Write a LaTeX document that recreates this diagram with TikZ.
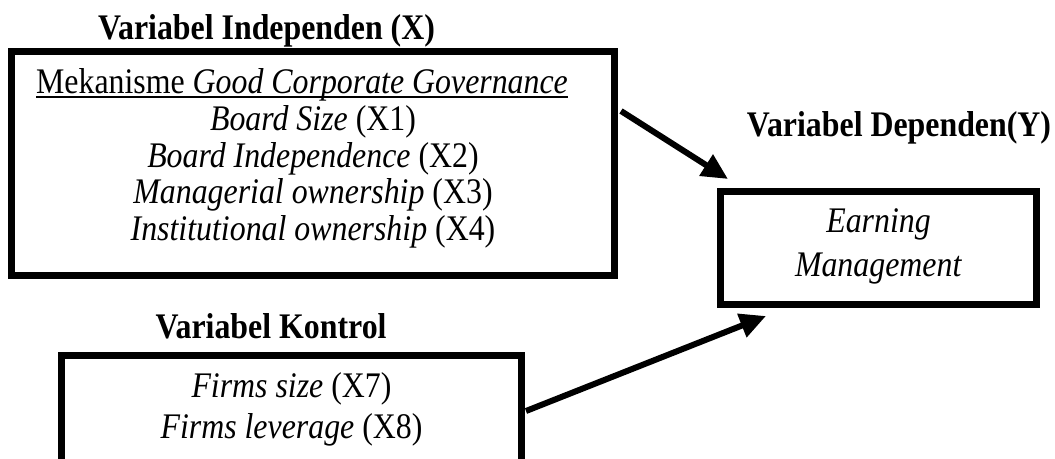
\documentclass[tikz,border=0pt]{standalone}
\usepackage{fontspec}
\setmainfont{Liberation Serif}[FakeStretch=0.885]
\usetikzlibrary{arrows.meta}
\begin{document}
\begin{tikzpicture}[x=1pt,y=-1pt,
  frame/.style={draw, rectangle, line width=6.8pt, inner sep=0pt, outer sep=0pt},
  txt/.style={inner sep=0pt, outer sep=0pt, anchor=base, font=\fontsize{36}{40}\selectfont},
  head/.style={inner sep=0pt, outer sep=0pt, anchor=base, font=\fontsize{36}{40}\selectfont\bfseries},
  conn/.style={line width=6pt, -{Triangle[length=26pt,width=24pt]}},
  uline/.style={line width=1.6pt}]
\clip (0,0) rectangle (1055,458);
\fill[white] (0,0) rectangle (1055,458);
% boxes
\node[frame, minimum width=603pt, minimum height=224pt] (box1) at (313,163.5) {};
\node[frame, minimum width=316.5pt, minimum height=113.5pt] (box2) at (878.5,248) {};
\node[frame, minimum width=460.2pt, minimum height=124.6pt] (box3) at (291.5,417.7) {};
% headings
\node[head] (tx) at (266.5,39) {Variabel Independen (X)};
\node[head] (ty) at (899,136) {Variabel Dependen(Y)};
\node[head] (tk) at (271,338) {Variabel Kontrol};
% box 1 text
\node[txt] (mek) at (302,93) {Mekanisme \textit{Good Corporate Governance}};
\draw[uline] ([yshift=-4pt]mek.base west) -- ([yshift=-4pt]mek.base east);
\node[txt] (x1) at (313,130) {\textit{Board Size} (X1)};
\node[txt] (x2) at (313,167) {\textit{Board Independence} (X2)};
\node[txt] (x3) at (313,203.5) {\textit{Managerial ownership} (X3)};
\node[txt] (x4) at (313,240) {\textit{Institutional ownership} (X4)};
% box 2 text
\node[txt] (em1) at (878.5,232) {\textit{Earning}};
\node[txt] (em2) at (878.5,276) {\textit{Management}};
% box 3 text
\node[txt] (x7) at (291.5,397) {\textit{Firms size} (X7)};
\node[txt] (x8) at (291.5,438) {\textit{Firms leverage} (X8)};
% connectors
\coordinate (a1s) at (621,111);
\coordinate (a1e) at (728,179);
\coordinate (a2s) at (526,411);
\coordinate (a2e) at (766,316);
\draw[conn] (a1s) -- (a1e);
\draw[conn] (a2s) -- (a2e);
\end{tikzpicture}
\end{document}
